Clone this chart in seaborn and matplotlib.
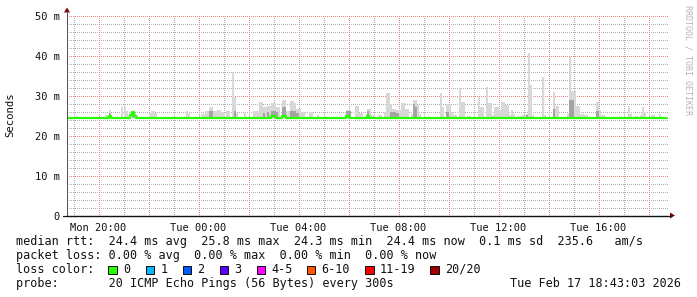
import numpy as np
import pandas as pd
import matplotlib
matplotlib.use("Agg")
import matplotlib.pyplot as plt
import seaborn as sns
from matplotlib.patches import Rectangle, Polygon
from matplotlib.lines import Line2D
from matplotlib.ticker import MultipleLocator, FixedLocator, FuncFormatter

# ---------------- data ----------------
start_hour = 18.75            # first sample: Mon 18:45 (hours since Mon 00:00)
step_hours = 5 / 60           # one sample every 300 s
n_samples = 288
median_base_ms = 24.4
smoke_floor_ms = 24.3

# samples where the median rtt departs from the base value
median_bump_idx = [20, 30, 31, 32, 98, 99, 103, 104, 134, 144]
median_bump_ms = [24.8, 25.2, 25.8, 25.0, 24.9, 24.9, 25.0, 25.0, 24.9, 24.9]

# smoke (slowest ping per sample), sample index -> ms
smoke_idx = [4, 18, 19, 20, 26, 27, 28, 30, 31, 32, 33, 39, 40, 41, 42, 57, 58,
             64, 65, 66, 67, 68, 69, 70, 71, 72, 73, 74, 76, 77, 79, 80, 81, 85,
             89, 90, 91, 92, 93, 94, 95, 96, 97, 98, 99, 100, 101, 103, 104, 105,
             106, 107, 108, 109, 110, 111, 112, 113, 116, 117, 120, 134, 135, 138,
             139, 140, 141, 144, 145, 146, 149, 150, 152, 153, 154, 155, 156, 157,
             158, 159, 160, 161, 162, 163, 165, 166, 167, 168, 169, 179, 180, 182,
             183, 184, 185, 186, 188, 189, 190, 192, 193, 197, 198, 199, 201, 202,
             203, 204, 205, 206, 207, 208, 209, 210, 211, 212, 213, 214, 216, 217,
             218, 219, 220, 221, 222, 223, 228, 229, 233, 234, 235, 240, 241, 242,
             243, 244, 245, 246, 247, 248, 249, 254, 255, 256, 257, 265, 269, 270,
             272, 273, 275, 276, 277, 280, 281, 284]
smoke_top_ms = [24.75, 25.0, 25.0, 26.4, 27.1, 27.1, 26.0, 25.6, 26.0, 25.5, 25.2,
                25.5, 26.1, 26.1, 25.5, 26.1, 25.5,
                25.3, 25.3, 26.0, 26.0, 27.1, 27.1, 26.0, 26.0, 26.25, 26.25, 25.8,
                26.0, 26.0, 35.8, 29.6, 25.5, 25.9,
                26.2, 26.2, 26.2, 28.3, 28.3, 27.0, 27.0, 27.3, 27.3, 28.0, 28.0,
                27.2, 27.2, 28.75, 28.75, 26.0,
                26.0, 28.5, 28.5, 28.0, 26.5, 26.5, 25.9, 25.9, 25.9, 25.9, 25.0,
                26.4, 26.4, 27.25,
                27.25, 25.5, 25.5, 26.7, 26.7, 25.0, 25.2, 25.2, 25.8, 30.6, 30.6,
                27.9, 26.5, 26.5,
                26.3, 26.3, 28.1, 28.1, 26.7, 26.7, 25.4, 28.75, 28.75, 27.7, 25.4,
                30.5, 27.1, 27.9,
                27.9, 25.8, 25.0, 25.0, 31.9, 28.3, 28.3, 24.8, 24.8, 29.6, 27.1,
                27.1, 32.1, 28.1,
                28.1, 25.2, 27.1, 27.1, 26.25, 28.3, 28.3, 27.5, 27.5, 25.0, 26.25,
                25.4, 24.8, 24.8,
                25.0, 25.0, 25.4, 40.5, 32.7, 25.0, 34.5, 25.0, 30.8, 27.3, 27.3,
                25.4, 39.5, 31.0,
                31.0, 27.3, 27.3, 25.4, 25.4, 25.0, 25.0, 28.3, 26.25, 25.0, 25.0,
                24.8, 27.25, 25.4,
                24.8, 24.8, 25.0, 27.0, 25.8, 25.0, 25.0, 25.3]

# denser (darker) part of the smoke
dark_idx = [20, 31, 68, 69, 80, 94, 96, 98, 99, 100, 103, 104, 107, 108, 109, 110,
            134, 135, 144, 155, 156, 157, 158, 166, 167, 182, 220, 233, 241, 242, 254]
dark_top_ms = [25.5, 25.8, 26.0, 26.0, 26.0, 25.5, 25.8, 26.2, 26.2, 25.8, 27.0, 27.0,
               26.0, 26.0, 26.0, 25.6, 26.0, 26.0, 26.2, 25.8, 25.8, 25.8, 25.6, 27.9,
               27.0, 25.8, 25.2, 26.5, 28.75, 28.75, 26.0]

y_ticks = [0, 10, 20, 30, 40, 50]
y_tick_labels = ["0", "10 m", "20 m", "30 m", "40 m", "50 m"]
x_tick_hours = [20, 24, 28, 32, 36, 40]
x_tick_labels = ["Mon 20:00", "Tue 00:00", "Tue 04:00", "Tue 08:00", "Tue 12:00", "Tue 16:00"]

legend_rtt = "median rtt:  24.4 ms avg  25.8 ms max  24.3 ms min  24.4 ms now  0.1 ms sd  235.6   am/s"
legend_loss = "packet loss: 0.00 % avg  0.00 % max  0.00 % min  0.00 % now"
legend_color_title = "loss color:"
loss_labels = ["0", "1", "2", "3", "4-5", "6-10", "11-19", "20/20"]
loss_colors = ["#26ff00", "#00b8ff", "#0059ff", "#5e00ff", "#ff00ff", "#ff5500", "#ff0000", "#a10000"]
legend_probe = "probe:       20 ICMP Echo Pings (56 Bytes) every 300s"
legend_date = "Tue Feb 17 18:43:03 2026"
watermark = "RRDTOOL / TOBI OETIKER"
y_label = "Seconds"

# ---------------- build tables ----------------
hours = start_hour + np.arange(n_samples) * step_hours
median = np.full(n_samples, median_base_ms)
median[median_bump_idx] = median_bump_ms
med_df = pd.DataFrame({"hour": np.append(hours, hours[-1] + step_hours),
                       "median": np.append(median, median[-1])})
smoke_df = pd.DataFrame({"hour": hours[smoke_idx], "top": smoke_top_ms})
dark_df = pd.DataFrame({"hour": hours[dark_idx], "top": dark_top_ms})

# ---------------- style ----------------
sns.set_style("white")
plt.rcParams["font.family"] = ["DejaVu Sans Mono", "DejaVu Sans"]

W, H = 697, 297
fig = plt.figure(figsize=(W / 100, H / 100), dpi=100, facecolor="white")


def fx(x):
    return x / W


def fy(y):
    return 1 - y / H


PX = 0.72  # one pixel in points
# offsets of a quarter/half pixel put the grid lines on pixel centres
AX_L, AX_B = 67.25, 215.5
ax = fig.add_axes([fx(AX_L), fy(AX_B), 601 / W, 200 / H])
ax.set_facecolor("white")
ax.set_axisbelow(True)

# smoke
ax.bar(smoke_df["hour"], smoke_df["top"] - smoke_floor_ms, bottom=smoke_floor_ms,
       width=step_hours, align="edge", color="#d8d8d8", linewidth=0, zorder=2)
ax.bar(dark_df["hour"], dark_df["top"] - smoke_floor_ms, bottom=smoke_floor_ms,
       width=step_hours, align="edge", color="#a4a4a4", linewidth=0, zorder=3)

# median
sns.lineplot(data=med_df, x="hour", y="median", estimator=None, ax=ax,
             color=loss_colors[0], linewidth=2.2 * PX, drawstyle="steps-post", zorder=4)

x_lo, x_hi = start_hour, start_hour + 601 / 25
ax.set_xlim(x_lo, x_hi)
ax.set_ylim(0, 50)

# ticks / grid (minor positions exclude the major ones explicitly)
x_major = np.arange(20, x_hi, 2)
x_minor = np.arange(19, x_hi, 2)
y_minor = [v for v in range(2, 50, 2) if v % 10]
ax.xaxis.set_major_locator(FixedLocator(x_major))
ax.xaxis.set_minor_locator(FixedLocator(x_minor))
lab = dict(zip(x_tick_hours, x_tick_labels))
ax.xaxis.set_major_formatter(FuncFormatter(lambda v, p: lab.get(int(round(v)), "")))
ax.yaxis.set_major_locator(FixedLocator(y_ticks))
ax.set_yticklabels(y_tick_labels)
ax.yaxis.set_minor_locator(FixedLocator(y_minor))

red_grid = "#e98585"
grey_grid = "#b0b0b0"
ax.grid(which="major", color=red_grid, linestyle=(0.5, (1, 1)), linewidth=PX)
ax.grid(which="minor", color=grey_grid, linestyle=(0.5, (1, 1)), linewidth=PX)

ax.tick_params(axis="x", which="major", length=3, width=PX, color=red_grid,
               labelsize=7.5, pad=2.5, labelcolor="#111111")
ax.tick_params(axis="x", which="minor", length=2, width=PX, color=grey_grid)
ax.tick_params(axis="y", which="major", length=2.5, width=PX, color="#333333",
               labelsize=7.5, pad=3, labelcolor="#111111")
ax.tick_params(axis="y", which="minor", length=0)

for s in ["top", "right"]:
    ax.spines[s].set_visible(False)
ax.spines["left"].set_color("#555555")
ax.spines["left"].set_linewidth(PX)
ax.spines["bottom"].set_color("#111111")
ax.spines["bottom"].set_linewidth(PX * 1.2)

ax.set_xlabel("")
ax.set_ylabel(y_label, fontsize=7.7, color="#111111")
ax.yaxis.set_label_coords((15 - AX_L) / 601, (215 - 114.5) / 200)

# axis extensions and arrows
fig.add_artist(Line2D([fx(AX_L), fx(AX_L)], [fy(AX_B), fy(11)], color="#555555", linewidth=PX))
fig.add_artist(Line2D([fx(63), fx(671)], [fy(AX_B), fy(AX_B)], color="#111111", linewidth=PX * 1.2))
fig.add_artist(Polygon([[fx(64), fy(12.5)], [fx(70), fy(12.5)], [fx(67), fy(7.5)]],
                       closed=True, color="#7f0000", linewidth=0))
fig.add_artist(Polygon([[fx(670), fy(212.5)], [fx(670), fy(218.5)], [fx(675), fy(215.5)]],
                       closed=True, color="#7f0000", linewidth=0))

# watermark
fig.text(fx(688), fy(5), watermark, rotation=270, ha="center", va="top",
         fontsize=6, color="#b4b4b4")

# legend
LS = 8.5
fig.text(fx(16), fy(245), legend_rtt, fontsize=LS, va="baseline", color="#111111")
fig.text(fx(16), fy(259), legend_loss, fontsize=LS, va="baseline", color="#111111")
fig.text(fx(16), fy(273), legend_color_title, fontsize=LS, va="baseline", color="#111111")
fig.text(fx(16), fy(287), legend_probe, fontsize=LS, va="baseline", color="#111111")
fig.text(fx(681), fy(287), legend_date, fontsize=LS, va="baseline", ha="right", color="#111111")

sq_left = [108, 145.5, 182.5, 219.5, 256.5, 306.5, 365, 430]
for lbl, col, x0 in zip(loss_labels, loss_colors, sq_left):
    fig.add_artist(Rectangle((fx(x0), fy(273.5)), 8.5 / W, 8 / H, facecolor=col,
                             edgecolor="#111111", linewidth=PX))
    fig.text(fx(x0 + 15), fy(273), lbl, fontsize=LS, va="baseline", color="#111111")

fig.savefig("out.png", dpi=100, facecolor="white")
